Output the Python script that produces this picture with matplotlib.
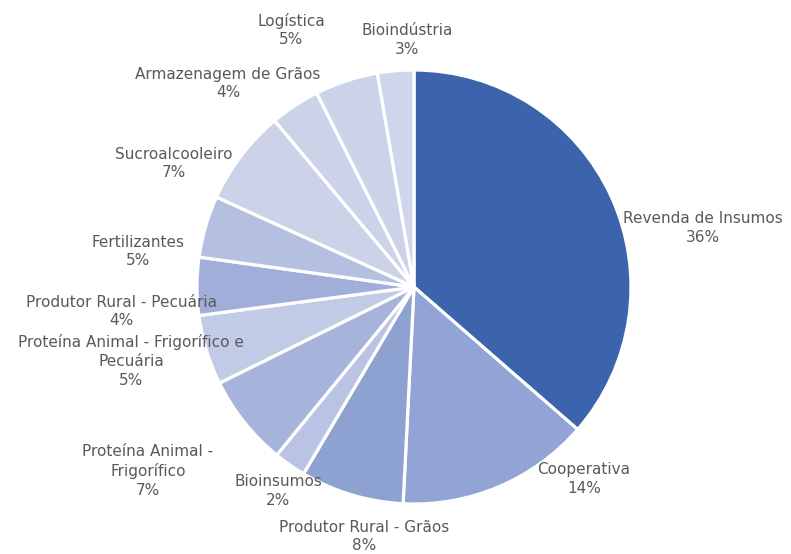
import matplotlib
matplotlib.use("Agg")
import matplotlib.pyplot as plt

# Data
categories = [
    "Revenda de Insumos",
    "Cooperativa",
    "Produtor Rural - Grãos",
    "Bioinsumos",
    "Proteína Animal -\nFrigorífico",
    "Proteína Animal - Frigorífico e\nPecuária",
    "Produtor Rural - Pecuária",
    "Fertilizantes",
    "Sucroalcooleiro",
    "Armazenagem de Grãos",
    "Logística",
    "Bioindústria",
]
values = [36.4, 14.4, 7.7, 2.4, 6.8, 5.2, 4.3, 4.6, 7.1, 3.7, 4.7, 2.7]
pct_labels = ["36%", "14%", "8%", "2%", "7%", "5%", "4%", "5%", "7%", "4%", "5%", "3%"]

# Styles / layout
colors = ["#3B64AD", "#91A4D5", "#8EA2D2", "#BAC3E3", "#A6B4DB", "#C2CBE6",
          "#A0AED9", "#B5C0E0", "#CCD3E9", "#CCD3E9", "#CCD3E9", "#CFD5EA"]
label_pos = [(1.332, 0.272), (0.783, -0.885), (-0.230, -1.150), (-0.627, -0.940),
             (-1.226, -0.848), (-1.304, -0.341), (-1.350, -0.113), (-1.272, 0.164),
             (-1.106, 0.569), (-0.857, 0.938), (-0.567, 1.184), (-0.032, 1.138)]

fig = plt.figure(figsize=(7.91, 5.54), dpi=100)
ax = fig.add_axes([0, 0, 1, 1])
ax.pie(values, colors=colors, startangle=90, counterclock=False, radius=1,
       wedgeprops=dict(edgecolor="white", linewidth=2.3))
ax.set_xlim(-414 / 217, (791 - 414) / 217)
ax.set_ylim(-(554 - 287) / 217, 287 / 217)
ax.set_aspect("equal")
ax.axis("off")

for cat, pct, (x, y) in zip(categories, pct_labels, label_pos):
    ax.text(x, y, f"{cat}\n{pct}", ha="center", va="center", fontsize=11,
            color="#595959", linespacing=1.3, family="DejaVu Sans")

fig.savefig("out.png", dpi=100, facecolor="white")
